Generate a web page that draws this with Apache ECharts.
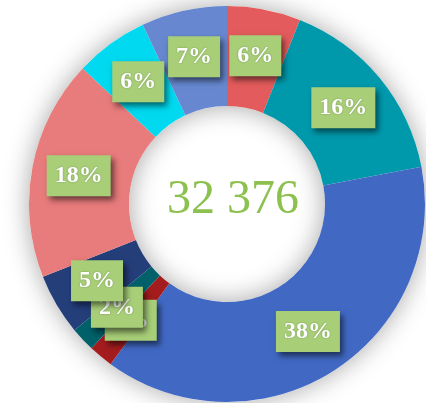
<!DOCTYPE html>
<html>
<head>
<meta charset="utf-8">
<script src="https://cdn.jsdelivr.net/npm/echarts@6/dist/echarts.min.js"></script>
<style>
  html, body { margin: 0; padding: 0; background: #fff; }
  #chart { width: 426px; height: 403px; }
</style>
</head>
<body>
<div id="chart"></div>
<script>
// slices clockwise from 12 o'clock
const values = [1942, 5180, 12303, 648, 648, 1619, 5828, 1943, 2265];
const colors = ["#E35B5C", "#0099AC", "#4169C4", "#A41C1E", "#00616A", "#243E7A", "#E87B7B", "#00D9EF", "#6788D0"];
const totalText = "32 376";

const chart = echarts.init(document.getElementById("chart"));

const center = [227, 204];
const radius = [98, 198];

const option = {
  animation: false,
  graphic: [
    {
      type: "text",
      z: 100,
      style: {
        x: 233,
        y: 200,
        text: totalText,
        fill: "#8DC14F",
        font: "48px 'Liberation Serif'",
        textAlign: "center",
        textVerticalAlign: "middle"
      }
    }
  ],
  series: [
    {
      // plain ring underneath, only for the soft shadow
      type: "pie",
      center,
      radius,
      silent: true,
      z: 1,
      label: { show: false },
      labelLine: { show: false },
      itemStyle: {
        color: "#ffffff",
        shadowBlur: 26,
        shadowColor: "rgba(0,0,0,0.35)"
      },
      data: [{ value: 1 }]
    },
    {
      type: "pie",
      center,
      radius,
      z: 2,
      avoidLabelOverlap: false,
      labelLayout: { hideOverlap: false },
      emphasis: { disabled: true },
      data: values.map((v, i) => ({ value: v, itemStyle: { color: colors[i] } })),
      label: {
        show: true,
        position: "inside",
        formatter: (p) => Math.round(p.percent) + "%",
        color: "#ffffff",
        fontFamily: "Liberation Serif",
        fontWeight: "bold",
        fontSize: 24,
        lineHeight: 24,
        backgroundColor: "#A8CF78",
        padding: [9, 8, 8, 8],
        shadowColor: "rgba(0,0,0,0.55)",
        shadowBlur: 6,
        shadowOffsetX: 3,
        shadowOffsetY: 4,
        textShadowColor: "rgba(0,0,0,0.3)",
        textShadowBlur: 2
      },
      labelLine: { show: false }
    }
  ]
};

chart.setOption(option);
</script>
</body>
</html>
